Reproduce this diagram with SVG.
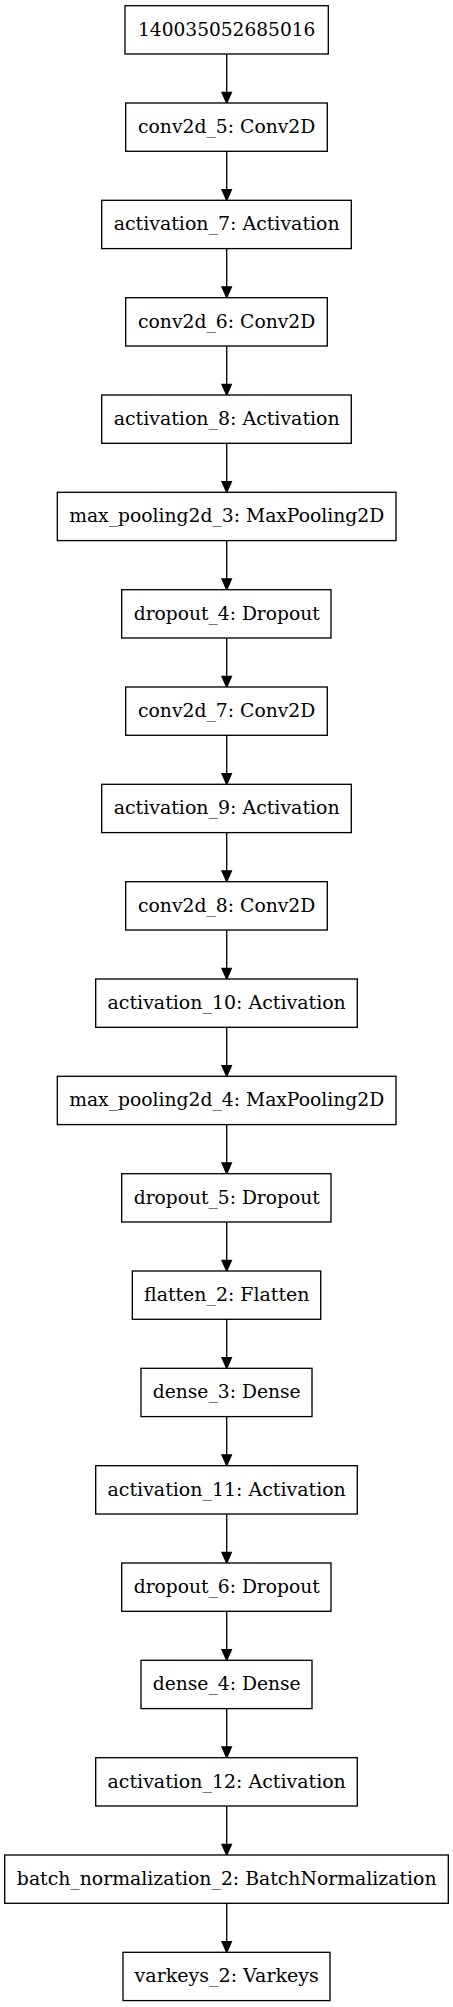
<svg xmlns="http://www.w3.org/2000/svg" width="453" height="2007" viewBox="0 0 453 2007">
<style>
.n rect{fill:#fff;stroke:#000;stroke-width:1.33}
.n text{font-family:"DejaVu Serif","Liberation Serif",serif;font-size:18.3px;fill:#000;text-anchor:middle}
.e line{stroke:#000;stroke-width:1.33}
.e polygon{fill:#000;stroke:#000;stroke-width:1.33}
</style>
<rect width="453" height="2007" fill="#fff"/>
<g id="edges" class="e">
<line x1="226.7" y1="54" x2="226.7" y2="92.3"/><polygon points="222,92.3 231.4,92.3 226.7,103"/>
<line x1="226.7" y1="151.3" x2="226.7" y2="189.6"/><polygon points="222,189.6 231.4,189.6 226.7,200.3"/>
<line x1="226.7" y1="248.7" x2="226.7" y2="287"/><polygon points="222,287 231.4,287 226.7,297.7"/>
<line x1="226.7" y1="346" x2="226.7" y2="384.3"/><polygon points="222,384.3 231.4,384.3 226.7,395"/>
<line x1="226.7" y1="443.3" x2="226.7" y2="481.6"/><polygon points="222,481.6 231.4,481.6 226.7,492.3"/>
<line x1="226.7" y1="540.7" x2="226.7" y2="579"/><polygon points="222,579 231.4,579 226.7,589.7"/>
<line x1="226.7" y1="638" x2="226.7" y2="676.3"/><polygon points="222,676.3 231.4,676.3 226.7,687"/>
<line x1="226.7" y1="735.3" x2="226.7" y2="773.6"/><polygon points="222,773.6 231.4,773.6 226.7,784.3"/>
<line x1="226.7" y1="832.7" x2="226.7" y2="871"/><polygon points="222,871 231.4,871 226.7,881.7"/>
<line x1="226.7" y1="930" x2="226.7" y2="968.3"/><polygon points="222,968.3 231.4,968.3 226.7,979"/>
<line x1="226.7" y1="1027.3" x2="226.7" y2="1065.6"/><polygon points="222,1065.6 231.4,1065.6 226.7,1076.3"/>
<line x1="226.7" y1="1124.7" x2="226.7" y2="1163"/><polygon points="222,1163 231.4,1163 226.7,1173.7"/>
<line x1="226.7" y1="1222" x2="226.7" y2="1260.3"/><polygon points="222,1260.3 231.4,1260.3 226.7,1271"/>
<line x1="226.7" y1="1319.3" x2="226.7" y2="1357.6"/><polygon points="222,1357.6 231.4,1357.6 226.7,1368.3"/>
<line x1="226.7" y1="1416.7" x2="226.7" y2="1455"/><polygon points="222,1455 231.4,1455 226.7,1465.7"/>
<line x1="226.7" y1="1514" x2="226.7" y2="1552.3"/><polygon points="222,1552.3 231.4,1552.3 226.7,1563"/>
<line x1="226.7" y1="1611.3" x2="226.7" y2="1649.6"/><polygon points="222,1649.6 231.4,1649.6 226.7,1660.3"/>
<line x1="226.7" y1="1708.7" x2="226.7" y2="1747"/><polygon points="222,1747 231.4,1747 226.7,1757.7"/>
<line x1="226.7" y1="1806" x2="226.7" y2="1844.3"/><polygon points="222,1844.3 231.4,1844.3 226.7,1855"/>
<line x1="226.7" y1="1903.3" x2="226.7" y2="1941.6"/><polygon points="222,1941.6 231.4,1941.6 226.7,1952.3"/>
</g>
<g id="n0" class="n"><rect x="125" y="5.7" width="203.3" height="48.3"/><text x="226.7" y="35.7" textLength="177.3" lengthAdjust="spacingAndGlyphs">140035052685016</text></g>
<g id="n1" class="n"><rect x="125.7" y="103" width="201.6" height="48.3"/><text x="226.7" y="133" textLength="177.3" lengthAdjust="spacingAndGlyphs">conv2d_5: Conv2D</text></g>
<g id="n2" class="n"><rect x="101.7" y="200.3" width="249.6" height="48.3"/><text x="226.7" y="230.3" textLength="226" lengthAdjust="spacingAndGlyphs">activation_7: Activation</text></g>
<g id="n3" class="n"><rect x="125.7" y="297.7" width="201.6" height="48.3"/><text x="226.7" y="327.7" textLength="177.3" lengthAdjust="spacingAndGlyphs">conv2d_6: Conv2D</text></g>
<g id="n4" class="n"><rect x="101.7" y="395" width="249.6" height="48.3"/><text x="226.7" y="425" textLength="226" lengthAdjust="spacingAndGlyphs">activation_8: Activation</text></g>
<g id="n5" class="n"><rect x="57.3" y="492.3" width="338.7" height="48.3"/><text x="226.7" y="522.3" textLength="315" lengthAdjust="spacingAndGlyphs">max_pooling2d_3: MaxPooling2D</text></g>
<g id="n6" class="n"><rect x="121.7" y="589.7" width="209.3" height="48.3"/><text x="226.7" y="619.7" textLength="186" lengthAdjust="spacingAndGlyphs">dropout_4: Dropout</text></g>
<g id="n7" class="n"><rect x="125.7" y="687" width="201.6" height="48.3"/><text x="226.7" y="717" textLength="177.3" lengthAdjust="spacingAndGlyphs">conv2d_7: Conv2D</text></g>
<g id="n8" class="n"><rect x="101.7" y="784.3" width="249.6" height="48.3"/><text x="226.7" y="814.3" textLength="226" lengthAdjust="spacingAndGlyphs">activation_9: Activation</text></g>
<g id="n9" class="n"><rect x="125.7" y="881.7" width="201.6" height="48.3"/><text x="226.7" y="911.7" textLength="177.3" lengthAdjust="spacingAndGlyphs">conv2d_8: Conv2D</text></g>
<g id="n10" class="n"><rect x="95.7" y="979" width="261.6" height="48.3"/><text x="226.7" y="1009" textLength="238.3" lengthAdjust="spacingAndGlyphs">activation_10: Activation</text></g>
<g id="n11" class="n"><rect x="57.3" y="1076.3" width="338.7" height="48.3"/><text x="226.7" y="1106.3" textLength="315" lengthAdjust="spacingAndGlyphs">max_pooling2d_4: MaxPooling2D</text></g>
<g id="n12" class="n"><rect x="121.7" y="1173.7" width="209.3" height="48.3"/><text x="226.7" y="1203.7" textLength="186" lengthAdjust="spacingAndGlyphs">dropout_5: Dropout</text></g>
<g id="n13" class="n"><rect x="132.3" y="1271" width="188.4" height="48.3"/><text x="226.7" y="1301" textLength="165.3" lengthAdjust="spacingAndGlyphs">flatten_2: Flatten</text></g>
<g id="n14" class="n"><rect x="141" y="1368.3" width="171" height="48.3"/><text x="226.7" y="1398.3" textLength="148" lengthAdjust="spacingAndGlyphs">dense_3: Dense</text></g>
<g id="n15" class="n"><rect x="95.7" y="1465.7" width="261.6" height="48.3"/><text x="226.7" y="1495.7" textLength="238.3" lengthAdjust="spacingAndGlyphs">activation_11: Activation</text></g>
<g id="n16" class="n"><rect x="121.7" y="1563" width="209.3" height="48.3"/><text x="226.7" y="1593" textLength="186" lengthAdjust="spacingAndGlyphs">dropout_6: Dropout</text></g>
<g id="n17" class="n"><rect x="141" y="1660.3" width="171" height="48.3"/><text x="226.7" y="1690.3" textLength="148" lengthAdjust="spacingAndGlyphs">dense_4: Dense</text></g>
<g id="n18" class="n"><rect x="95.7" y="1757.7" width="261.6" height="48.3"/><text x="226.7" y="1787.7" textLength="238.3" lengthAdjust="spacingAndGlyphs">activation_12: Activation</text></g>
<g id="n19" class="n"><rect x="4.7" y="1855" width="443.6" height="48.3"/><text x="226.7" y="1885" textLength="419.7" lengthAdjust="spacingAndGlyphs">batch_normalization_2: BatchNormalization</text></g>
<g id="n20" class="n"><rect x="123" y="1952.3" width="207" height="48.3"/><text x="226.7" y="1982.3" textLength="184.3" lengthAdjust="spacingAndGlyphs">varkeys_2: Varkeys</text></g>
</svg>
